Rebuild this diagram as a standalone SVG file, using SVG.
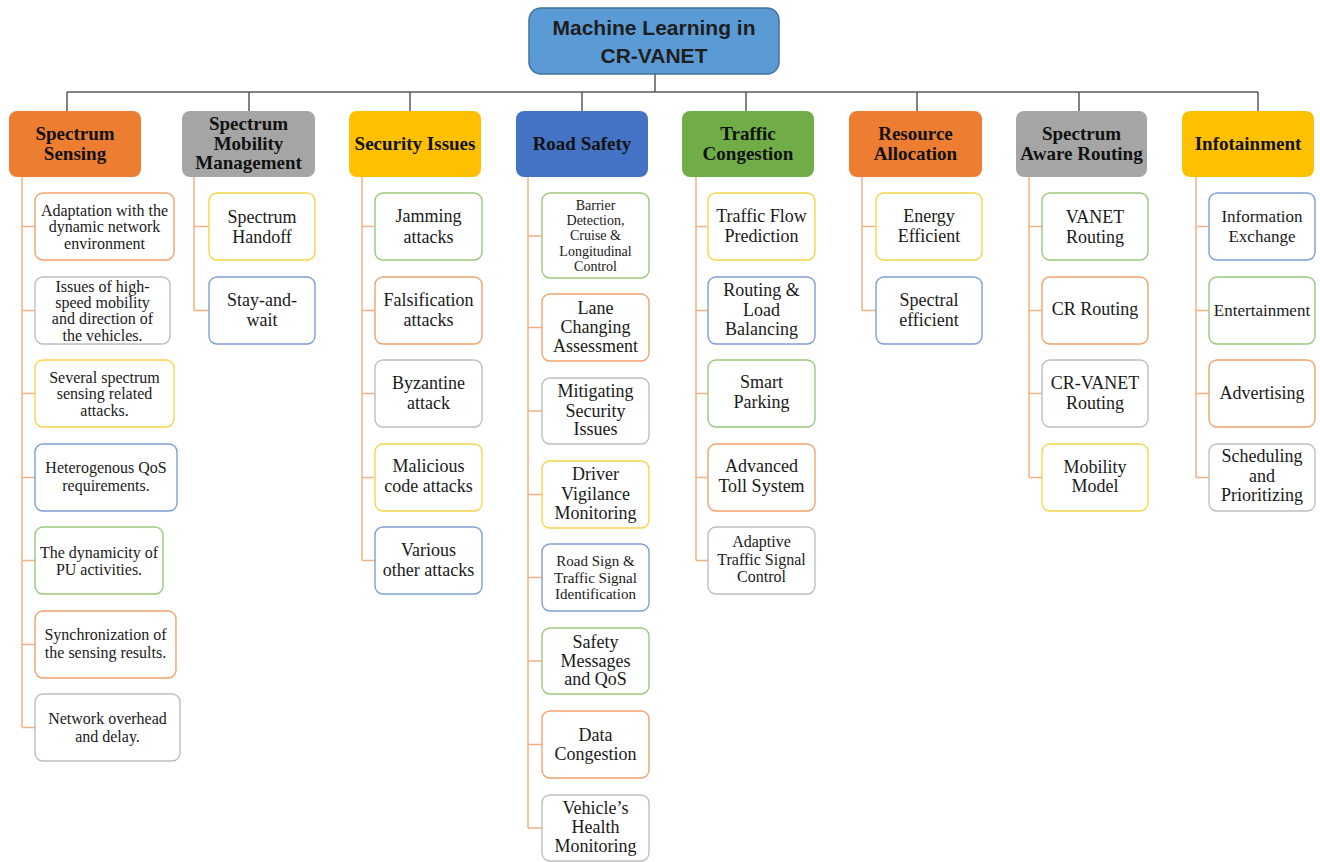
<svg xmlns="http://www.w3.org/2000/svg" width="1320" height="862" viewBox="0 0 1320 862">
  <style>
    .bg { fill: #ffffff; }
    .root { fill: #5B9BD5; stroke: #41719C; stroke-width: 1.5; }
    .root-t { font-family: "Liberation Sans", Arial, sans-serif; font-weight: bold; font-size: 21px; fill: #1e1e1e; text-anchor: middle; }
    .hd { stroke: none; }
    .hd-or { fill: #ED7D31; }
    .hd-gr { fill: #A5A5A5; }
    .hd-ye { fill: #FFC000; }
    .hd-bl { fill: #4472C4; }
    .hd-gn { fill: #70AD47; }
    .hd-t { font-family: "Liberation Serif", "Times New Roman", serif; font-weight: bold; font-size: 19px; fill: #111111; text-anchor: middle; }
    .ch { fill: #ffffff; stroke-width: 1.4; }
    .c-or { stroke: #F2A36E; }
    .c-gr { stroke: #BFBFBF; }
    .c-ye { stroke: #F8D44C; }
    .c-bl { stroke: #7F9FD6; }
    .c-gn { stroke: #9BC97D; }
    .t { font-family: "Liberation Serif", "Times New Roman", serif; fill: #1a1a1a; text-anchor: middle; }
    .s18 { font-size: 18px; }
    .s17 { font-size: 17px; }
    .s16 { font-size: 16px; }
    .s15 { font-size: 15px; }
    .s14 { font-size: 14px; }
    .bus { fill: none; stroke: #595959; stroke-width: 1.5; }
    .branch { fill: none; stroke: #F4B183; stroke-width: 1.5; }
  </style>

  <rect class="bg" x="0" y="0" width="1320" height="862"/>

  <!-- connectors -->
  <g id="connectors">
    <path class="bus" d="M655 74V92M67 92H1258M67 92V111M249 92V111M410 92V111M582 92V111M746 92V111M917 92V111M1079 92V111M1258 92V111"/>
    <!-- Spectrum Sensing -->
    <path class="branch" d="M22 177V727.5M22 226.5H35M22 310.5H35M22 393.5H35M22 477.5H35M22 560.5H35M22 644.5H35M22 727.5H35"/>
    <!-- Spectrum Mobility Management -->
    <path class="branch" d="M194 177V310.5M194 226.5H209M194 310.5H209"/>
    <!-- Security Issues -->
    <path class="branch" d="M362 177V560.5M362 226.5H375M362 310.5H375M362 393.5H375M362 477.5H375M362 560.5H375"/>
    <!-- Road Safety -->
    <path class="branch" d="M528 177V828M528 236H542M528 327.5H542M528 411H542M528 494.5H542M528 577.5H542M528 661H542M528 744.5H542M528 828H542"/>
    <!-- Traffic Congestion -->
    <path class="branch" d="M696 177V560.5M696 226.5H708M696 310.5H708M696 393.5H708M696 477.5H708M696 560.5H708"/>
    <!-- Resource Allocation -->
    <path class="branch" d="M862 177V310.5M862 226.5H876M862 310.5H876"/>
    <!-- Spectrum Aware Routing -->
    <path class="branch" d="M1029 177V477.5M1029 226.5H1042M1029 310.5H1042M1029 393.5H1042M1029 477.5H1042"/>
    <!-- Infotainment -->
    <path class="branch" d="M1196 177V477.5M1196 226.5H1209M1196 310.5H1209M1196 393.5H1209M1196 477.5H1209"/>
  </g>

  <!-- root -->
  <g id="root">
    <rect class="root" x="529" y="8" width="250" height="66" rx="12"/>
    <text class="root-t" x="654" y="34.5">Machine Learning in</text>
    <text class="root-t" x="654" y="62.5">CR-VANET</text>
  </g>

  <!-- category headers -->
  <g id="h-spectrum-sensing">
    <rect class="hd hd-or" x="9" y="111" width="132" height="66" rx="8"/>
    <text class="hd-t" x="75" y="139.5">Spectrum</text>
    <text class="hd-t" x="75" y="159.5">Sensing</text>
  </g>
  <g id="h-spectrum-mobility">
    <rect class="hd hd-gr" x="182" y="111" width="133" height="66" rx="8"/>
    <text class="hd-t" x="248.5" y="129.5">Spectrum</text>
    <text class="hd-t" x="248.5" y="149.5">Mobility</text>
    <text class="hd-t" x="248.5" y="168.5">Management</text>
  </g>
  <g id="h-security">
    <rect class="hd hd-ye" x="349" y="111" width="132" height="66" rx="8"/>
    <text class="hd-t" x="415" y="149.5">Security Issues</text>
  </g>
  <g id="h-road-safety">
    <rect class="hd hd-bl" x="516" y="111" width="132" height="66" rx="8"/>
    <text class="hd-t" x="582" y="149.5">Road Safety</text>
  </g>
  <g id="h-traffic">
    <rect class="hd hd-gn" x="682" y="111" width="132" height="66" rx="8"/>
    <text class="hd-t" x="748" y="139.5">Traffic</text>
    <text class="hd-t" x="748" y="159.5">Congestion</text>
  </g>
  <g id="h-resource">
    <rect class="hd hd-or" x="849" y="111" width="133" height="66" rx="8"/>
    <text class="hd-t" x="915.5" y="139.5">Resource</text>
    <text class="hd-t" x="915.5" y="159.5">Allocation</text>
  </g>
  <g id="h-routing">
    <rect class="hd hd-gr" x="1016" y="111" width="131" height="66" rx="8"/>
    <text class="hd-t" x="1081.5" y="139.5">Spectrum</text>
    <text class="hd-t" x="1081.5" y="159.5">Aware Routing</text>
  </g>
  <g id="h-infotainment">
    <rect class="hd hd-ye" x="1182" y="111" width="132" height="66" rx="8"/>
    <text class="hd-t" x="1248" y="149.5">Infotainment</text>
  </g>

  <!-- Spectrum Sensing items -->
  <g id="ss-1">
    <rect class="ch c-or" x="35" y="193" width="139" height="67" rx="8"/>
    <text class="t s16" x="104.5" y="215.5">Adaptation with the</text>
    <text class="t s16" x="104.5" y="232">dynamic network</text>
    <text class="t s16" x="104.5" y="248.5">environment</text>
  </g>
  <g id="ss-2">
    <rect class="ch c-gr" x="35" y="277" width="135" height="67" rx="8"/>
    <text class="t s16" x="102.5" y="291.5">Issues of high-</text>
    <text class="t s16" x="102.5" y="307.5">speed mobility</text>
    <text class="t s16" x="102.5" y="324">and direction of</text>
    <text class="t s16" x="102.5" y="340.5">the vehicles.</text>
  </g>
  <g id="ss-3">
    <rect class="ch c-ye" x="35" y="360" width="139" height="67" rx="8"/>
    <text class="t s16" x="104.5" y="382.5">Several spectrum</text>
    <text class="t s16" x="104.5" y="398.5">sensing related</text>
    <text class="t s16" x="104.5" y="415.5">attacks.</text>
  </g>
  <g id="ss-4">
    <rect class="ch c-bl" x="35" y="444" width="142" height="67" rx="8"/>
    <text class="t s16" x="106" y="472.5">Heterogenous QoS</text>
    <text class="t s16" x="106" y="490.5">requirements.</text>
  </g>
  <g id="ss-5">
    <rect class="ch c-gn" x="35" y="527" width="128" height="67" rx="8"/>
    <text class="t s16" x="99" y="557.5">The dynamicity of</text>
    <text class="t s16" x="99" y="574.5">PU activities.</text>
  </g>
  <g id="ss-6">
    <rect class="ch c-or" x="35" y="611" width="141" height="67" rx="8"/>
    <text class="t s16" x="105.5" y="639.5">Synchronization of</text>
    <text class="t s16" x="105.5" y="657.5">the sensing results.</text>
  </g>
  <g id="ss-7">
    <rect class="ch c-gr" x="35" y="694" width="145" height="67" rx="8"/>
    <text class="t s16" x="107.5" y="723.5">Network overhead</text>
    <text class="t s16" x="107.5" y="741.5">and delay.</text>
  </g>

  <!-- Spectrum Mobility Management items -->
  <g id="sm-1">
    <rect class="ch c-ye" x="209" y="193" width="106" height="67" rx="8"/>
    <text class="t s18" x="262" y="223">Spectrum</text>
    <text class="t s18" x="262" y="243">Handoff</text>
  </g>
  <g id="sm-2">
    <rect class="ch c-bl" x="209" y="277" width="106" height="67" rx="8"/>
    <text class="t s18" x="262" y="306">Stay-and-</text>
    <text class="t s18" x="262" y="326">wait</text>
  </g>

  <!-- Security Issues items -->
  <g id="si-1">
    <rect class="ch c-gn" x="375" y="193" width="107" height="67" rx="8"/>
    <text class="t s18" x="428.5" y="222">Jamming</text>
    <text class="t s18" x="428.5" y="243">attacks</text>
  </g>
  <g id="si-2">
    <rect class="ch c-or" x="375" y="277" width="107" height="67" rx="8"/>
    <text class="t s18" x="428.5" y="306">Falsification</text>
    <text class="t s18" x="428.5" y="326">attacks</text>
  </g>
  <g id="si-3">
    <rect class="ch c-gr" x="375" y="360" width="107" height="67" rx="8"/>
    <text class="t s18" x="428.5" y="389">Byzantine</text>
    <text class="t s18" x="428.5" y="409">attack</text>
  </g>
  <g id="si-4">
    <rect class="ch c-ye" x="375" y="444" width="107" height="67" rx="8"/>
    <text class="t s18" x="428.5" y="472">Malicious</text>
    <text class="t s18" x="428.5" y="492">code attacks</text>
  </g>
  <g id="si-5">
    <rect class="ch c-bl" x="375" y="527" width="107" height="67" rx="8"/>
    <text class="t s18" x="428.5" y="556">Various</text>
    <text class="t s18" x="428.5" y="576">other attacks</text>
  </g>

  <!-- Road Safety items -->
  <g id="rs-1">
    <rect class="ch c-gn" x="542" y="193" width="107" height="85" rx="8"/>
    <text class="t s14" x="595.5" y="209.5">Barrier</text>
    <text class="t s14" x="595.5" y="224.5">Detection,</text>
    <text class="t s14" x="595.5" y="239.5">Cruise &amp;</text>
    <text class="t s14" x="595.5" y="255.5">Longitudinal</text>
    <text class="t s14" x="595.5" y="270.5">Control</text>
  </g>
  <g id="rs-2">
    <rect class="ch c-or" x="542" y="294" width="107" height="67" rx="8"/>
    <text class="t s18" x="595.5" y="314">Lane</text>
    <text class="t s18" x="595.5" y="333">Changing</text>
    <text class="t s18" x="595.5" y="352">Assessment</text>
  </g>
  <g id="rs-3">
    <rect class="ch c-gr" x="542" y="378" width="107" height="66" rx="8"/>
    <text class="t s18" x="595.5" y="397">Mitigating</text>
    <text class="t s18" x="595.5" y="417">Security</text>
    <text class="t s18" x="595.5" y="435">Issues</text>
  </g>
  <g id="rs-4">
    <rect class="ch c-ye" x="542" y="461" width="107" height="67" rx="8"/>
    <text class="t s18" x="595.5" y="480">Driver</text>
    <text class="t s18" x="595.5" y="500">Vigilance</text>
    <text class="t s18" x="595.5" y="519">Monitoring</text>
  </g>
  <g id="rs-5">
    <rect class="ch c-bl" x="542" y="544" width="107" height="67" rx="8"/>
    <text class="t s15" x="595.5" y="566">Road Sign &amp;</text>
    <text class="t s15" x="595.5" y="583">Traffic Signal</text>
    <text class="t s15" x="595.5" y="599">Identification</text>
  </g>
  <g id="rs-6">
    <rect class="ch c-gn" x="542" y="628" width="107" height="66" rx="8"/>
    <text class="t s18" x="595.5" y="648">Safety</text>
    <text class="t s18" x="595.5" y="667">Messages</text>
    <text class="t s18" x="595.5" y="685">and QoS</text>
  </g>
  <g id="rs-7">
    <rect class="ch c-or" x="542" y="711" width="107" height="67" rx="8"/>
    <text class="t s18" x="595.5" y="741">Data</text>
    <text class="t s18" x="595.5" y="760">Congestion</text>
  </g>
  <g id="rs-8">
    <rect class="ch c-gr" x="542" y="795" width="107" height="66" rx="8"/>
    <text class="t s18" x="595.5" y="814">Vehicle’s</text>
    <text class="t s18" x="595.5" y="833">Health</text>
    <text class="t s18" x="595.5" y="852">Monitoring</text>
  </g>

  <!-- Traffic Congestion items -->
  <g id="tc-1">
    <rect class="ch c-ye" x="708" y="193" width="107" height="67" rx="8"/>
    <text class="t s18" x="761.5" y="222">Traffic Flow</text>
    <text class="t s18" x="761.5" y="242">Prediction</text>
  </g>
  <g id="tc-2">
    <rect class="ch c-bl" x="708" y="277" width="107" height="67" rx="8"/>
    <text class="t s18" x="761.5" y="296">Routing &amp;</text>
    <text class="t s18" x="761.5" y="316">Load</text>
    <text class="t s18" x="761.5" y="335">Balancing</text>
  </g>
  <g id="tc-3">
    <rect class="ch c-gn" x="708" y="360" width="107" height="67" rx="8"/>
    <text class="t s18" x="761.5" y="388">Smart</text>
    <text class="t s18" x="761.5" y="408">Parking</text>
  </g>
  <g id="tc-4">
    <rect class="ch c-or" x="708" y="444" width="107" height="67" rx="8"/>
    <text class="t s18" x="761.5" y="472">Advanced</text>
    <text class="t s18" x="761.5" y="492">Toll System</text>
  </g>
  <g id="tc-5">
    <rect class="ch c-gr" x="708" y="527" width="107" height="67" rx="8"/>
    <text class="t s16" x="761.5" y="547">Adaptive</text>
    <text class="t s16" x="761.5" y="564.5">Traffic Signal</text>
    <text class="t s16" x="761.5" y="582">Control</text>
  </g>

  <!-- Resource Allocation items -->
  <g id="ra-1">
    <rect class="ch c-ye" x="876" y="193" width="106" height="67" rx="8"/>
    <text class="t s18" x="929" y="222">Energy</text>
    <text class="t s18" x="929" y="242">Efficient</text>
  </g>
  <g id="ra-2">
    <rect class="ch c-bl" x="876" y="277" width="106" height="67" rx="8"/>
    <text class="t s18" x="929" y="306">Spectral</text>
    <text class="t s18" x="929" y="326">efficient</text>
  </g>

  <!-- Spectrum Aware Routing items -->
  <g id="sr-1">
    <rect class="ch c-gn" x="1042" y="193" width="106" height="67" rx="8"/>
    <text class="t s18" x="1095" y="223">VANET</text>
    <text class="t s18" x="1095" y="243">Routing</text>
  </g>
  <g id="sr-2">
    <rect class="ch c-or" x="1042" y="277" width="106" height="67" rx="8"/>
    <text class="t s18" x="1095" y="315">CR Routing</text>
  </g>
  <g id="sr-3">
    <rect class="ch c-gr" x="1042" y="360" width="106" height="67" rx="8"/>
    <text class="t s18" x="1095" y="389">CR-VANET</text>
    <text class="t s18" x="1095" y="409">Routing</text>
  </g>
  <g id="sr-4">
    <rect class="ch c-ye" x="1042" y="444" width="106" height="67" rx="8"/>
    <text class="t s18" x="1095" y="473">Mobility</text>
    <text class="t s18" x="1095" y="492">Model</text>
  </g>

  <!-- Infotainment items -->
  <g id="in-1">
    <rect class="ch c-bl" x="1209" y="193" width="106" height="67" rx="8"/>
    <text class="t s17" x="1262" y="222">Information</text>
    <text class="t s17" x="1262" y="242">Exchange</text>
  </g>
  <g id="in-2">
    <rect class="ch c-gn" x="1209" y="277" width="106" height="67" rx="8"/>
    <text class="t s17" x="1262" y="316">Entertainment</text>
  </g>
  <g id="in-3">
    <rect class="ch c-or" x="1209" y="360" width="106" height="67" rx="8"/>
    <text class="t s18" x="1262" y="399">Advertising</text>
  </g>
  <g id="in-4">
    <rect class="ch c-gr" x="1209" y="444" width="106" height="67" rx="8"/>
    <text class="t s18" x="1262" y="462">Scheduling</text>
    <text class="t s18" x="1262" y="482">and</text>
    <text class="t s18" x="1262" y="501">Prioritizing</text>
  </g>
</svg>
